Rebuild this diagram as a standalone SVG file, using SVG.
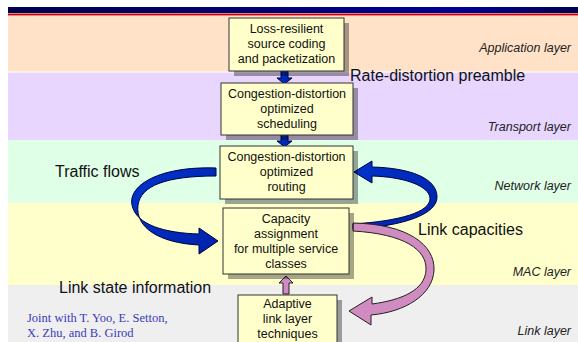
<svg xmlns="http://www.w3.org/2000/svg" width="578" height="342" viewBox="0 0 578 342">
<defs>
<linearGradient id="bar" x1="0" y1="0" x2="1" y2="0">
<stop offset="0" stop-color="#00004C"/>
<stop offset="0.8" stop-color="#000094"/>
<stop offset="1" stop-color="#00004C"/>
</linearGradient>
<linearGradient id="blueFill" x1="0" y1="0" x2="1" y2="1">
<stop offset="0" stop-color="#0033CC"/>
<stop offset="1" stop-color="#0022AA"/>
</linearGradient>
<style>
.box{fill:#FFFFCC;stroke:#333333;stroke-width:1}
.shadow{fill:#000000;fill-opacity:0.35}
.bt{font-family:"Liberation Sans",Arial,sans-serif;font-size:12.5px;fill:#111111;text-anchor:middle}
.layer{font-family:"Liberation Sans",Arial,sans-serif;font-size:12.5px;font-style:italic;fill:#222222;text-anchor:end}
.big{font-family:"Liberation Sans",Arial,sans-serif;font-size:16px;fill:#111111}
.credit{font-family:"Liberation Serif","Times New Roman",serif;font-size:12.5px;fill:#3A3AC0}
.blue{fill:url(#blueFill);stroke:#000044;stroke-width:1}
.pink{fill:#D08CC0;stroke:#222222;stroke-width:1}
</style>
</defs>
<rect x="0" y="0" width="578" height="342" fill="#FFFFFF"/>
<g id="layers">
<rect x="8" y="16" width="570" height="56" fill="#FFE2C8"/>
<rect x="8" y="72" width="570" height="68" fill="#E8D6FF"/>
<line x1="8" y1="72" x2="578" y2="72" stroke="#FFFFFF" stroke-width="1"/>
<rect x="8" y="140" width="570" height="63" fill="#DFFFE6"/>
<rect x="8" y="203" width="570" height="82" fill="#FFFFCC"/>
<rect x="8" y="285" width="570" height="57" fill="#EFEFEF"/>
<rect x="8" y="7" width="570" height="6" fill="url(#bar)"/>
<rect x="8" y="13.5" width="570" height="1.5" fill="#CC0000"/>
<rect x="8" y="15" width="570" height="1" fill="#F08080"/>
<text class="layer" x="571" y="52">Application layer</text>
<text class="layer" x="571" y="131">Transport layer</text>
<text class="layer" x="571" y="190">Network layer</text>
<text class="layer" x="571" y="276">MAC layer</text>
<text class="layer" x="571" y="335">Link layer</text>
</g>
<g id="connectors">
<path class="blue" d="M281,70 L288,70 L288,78 L292,78 L284.5,84 L277,78 L281,78 Z"/>
<path class="blue" d="M281,134 L288,134 L288,141 L292,141 L284.5,147 L277,141 L281,141 Z"/>
<path class="pink" d="M283,294 L289,294 L289,283 L293,283 L286,276 L279,283 L283,283 Z"/>
<path class="blue" d="M216,168 C160,166 128,185 132,205 C136,225 165,233 199,234 L199,228 L218,241 L199,254 L199,245 C160,243 135,228 138,205 C141,186 165,176 216,176 Z"/>
<path class="blue" d="M353,229 C405,226 437,214 437,197 C437,178 410,168 372,167 L372,161 L354,172 L372,183 L372,176 C405,177 429,186 430,198 C431,212 400,221 353,224 Z"/>
<path class="pink" d="M353,223 C408,224 435,245 434,270 C433,295 405,312 371,315 L371,325 L349,311 L372,297 L372,304 C402,300 425,290 426,270 C427,250 405,234 353,231 Z"/>
</g>
<g id="box-source">
<rect class="shadow" x="234" y="23" width="115" height="53"/>
<rect class="box" x="229" y="18" width="115" height="53"/>
<text class="bt" x="286.5" y="33">Loss-resilient</text>
<text class="bt" x="286.5" y="48">source coding</text>
<text class="bt" x="286.5" y="63">and packetization</text>
</g>
<g id="box-scheduling">
<rect class="shadow" x="226" y="88" width="132" height="52"/>
<rect class="box" x="221" y="83" width="132" height="52"/>
<text class="bt" x="287" y="98">Congestion-distortion</text>
<text class="bt" x="287" y="113">optimized</text>
<text class="bt" x="287" y="128">scheduling</text>
</g>
<g id="box-routing">
<rect class="shadow" x="225" y="151" width="133" height="53"/>
<rect class="box" x="220" y="146" width="133" height="53"/>
<text class="bt" x="286.5" y="161">Congestion-distortion</text>
<text class="bt" x="286.5" y="176">optimized</text>
<text class="bt" x="286.5" y="191">routing</text>
</g>
<g id="box-capacity">
<rect class="shadow" x="228" y="213" width="126" height="66"/>
<rect class="box" x="223" y="208" width="126" height="66"/>
<text class="bt" x="286" y="223">Capacity</text>
<text class="bt" x="286" y="238">assignment</text>
<text class="bt" x="286" y="253">for multiple service</text>
<text class="bt" x="286" y="268">classes</text>
</g>
<g id="box-adaptive">
<rect class="shadow" x="243" y="300" width="99" height="60"/>
<rect class="box" x="238" y="295" width="99" height="60"/>
<text class="bt" x="287.5" y="308">Adaptive</text>
<text class="bt" x="287.5" y="323">link layer</text>
<text class="bt" x="287.5" y="338">techniques</text>
</g>
<g id="labels">
<text class="big" x="350" y="81">Rate-distortion preamble</text>
<text class="big" x="55" y="177">Traffic flows</text>
<text class="big" x="418" y="235">Link capacities</text>
<text class="big" x="59" y="293">Link state information</text>
<text class="credit" x="27" y="322">Joint with T. Yoo, E. Setton,</text>
<text class="credit" x="27" y="337">X. Zhu, and B. Girod</text>
</g>
</svg>
